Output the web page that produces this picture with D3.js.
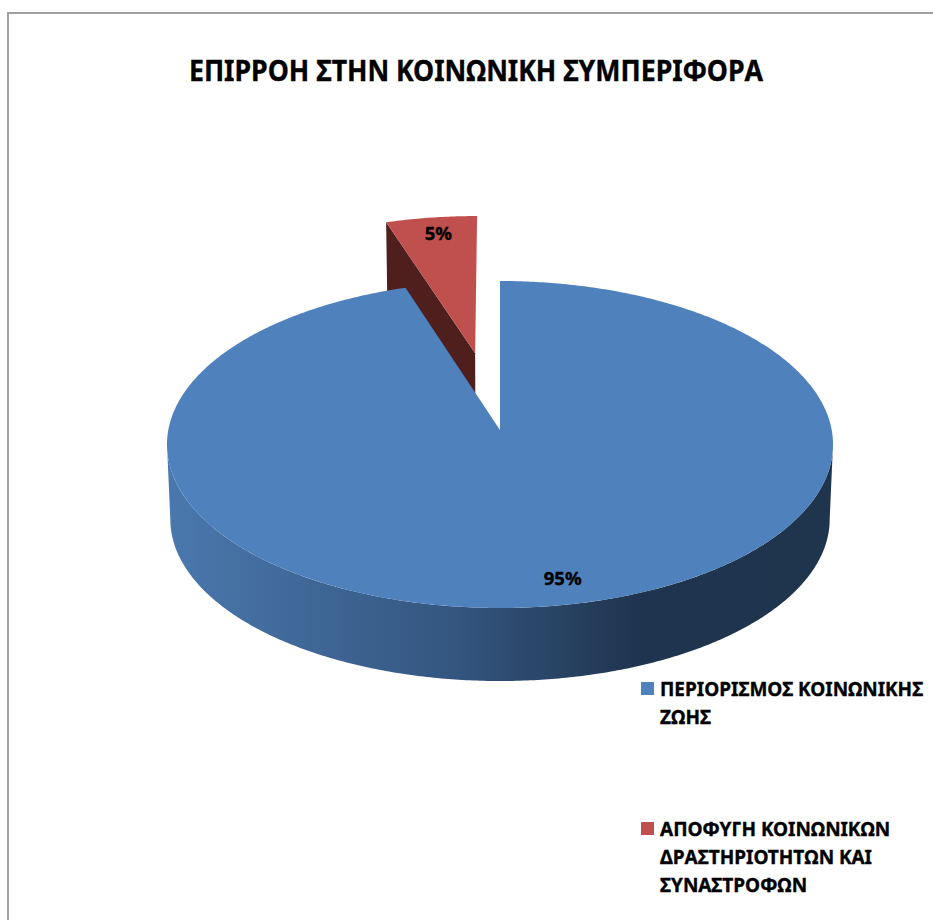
<!DOCTYPE html>
<html lang="el">
<head>
<meta charset="utf-8">
<script src="https://cdn.jsdelivr.net/npm/d3@7"></script>
<style>
  html, body { margin: 0; padding: 0; background: #fff; overflow: hidden; }
  text { font-family: "Noto Sans", "Open Sans", sans-serif; font-weight: 700; fill: #000; stroke: #000; stroke-width: 0.35px; }
</style>
</head>
<body>
<svg id="chart" width="933" height="920"></svg>
<script>
// Chart content
const chartTitle = "ΕΠΙΡΡΟΗ ΣΤΗΝ ΚΟΙΝΩΝΙΚΗ ΣΥΜΠΕΡΙΦΟΡΑ";
const categories = ["ΠΕΡΙΟΡΙΣΜΟΣ ΚΟΙΝΩΝΙΚΗΣ ΖΩΗΣ", "ΑΠΟΦΥΓΗ ΚΟΙΝΩΝΙΚΩΝ ΔΡΑΣΤΗΡΙΟΤΗΤΩΝ ΚΑΙ ΣΥΝΑΣΤΡΟΦΩΝ"];
const values = [95, 5];
const legendLines = [
  ["ΠΕΡΙΟΡΙΣΜΟΣ ΚΟΙΝΩΝΙΚΗΣ", "ΖΩΗΣ"],
  ["ΑΠΟΦΥΓΗ ΚΟΙΝΩΝΙΚΩΝ", "ΔΡΑΣΤΗΡΙΟΤΗΤΩΝ ΚΑΙ", "ΣΥΝΑΣΤΡΟΦΩΝ"]
];
const explosion = [0, 0.5];
const topColors = ["#4f81bd", "#c0504d"];

// Perspective model of the tilted disc
const centre = { x: 500, y: 430 };
const radiusX = 331.7, radiusY = 162.2, perspective = 0.0887;
const depth = 74.8, bottomScale = 0.99;

const svg = d3.select("#chart");
const defs = svg.append("defs");

// Projects a point on the unit disc (X to the right, Z to the back).
function project(X, Z, bottom) {
  const s = bottom ? bottomScale : 1;
  const w = 1 + perspective * Z;
  return [
    centre.x + s * radiusX * X / w,
    centre.y - s * radiusY * Z / w + (bottom ? depth : 0)
  ];
}

const pieLayout = d3.pie().sort(null).value(d => d);
const slices = pieLayout(values).map((s, i) => {
  const mid = (s.startAngle + s.endAngle) / 2;
  return {
    ...s,
    index: i,
    mid,
    ox: Math.sin(mid) * explosion[i],
    oz: Math.cos(mid) * explosion[i]
  };
});

const rimPoint = (s, a, bottom, r = 1) =>
  project(s.ox + r * Math.sin(a), s.oz + r * Math.cos(a), bottom);

const line = d3.line();

function arcAngles(a0, a1) {
  const n = Math.max(2, Math.ceil(Math.abs(a1 - a0) / 0.01));
  return d3.range(n + 1).map(i => a0 + (a1 - a0) * i / n);
}

// Chart frame, running past the right and bottom edges of the page
svg.append("rect")
  .attr("x", 8).attr("y", 13).attr("width", 1000).attr("height", 1000)
  .attr("fill", "#fff").attr("stroke", "#a0a0a0").attr("stroke-width", 2);

// Title
svg.append("text")
  .attr("x", 476).attr("y", 80.5)
  .attr("text-anchor", "middle")
  .attr("font-size", 28)
  .attr("textLength", 574)
  .attr("lengthAdjust", "spacingAndGlyphs")
  .text(chartTitle);

// Shading of the curved side of the disc
const sideGradient = defs.append("linearGradient")
  .attr("id", "side-blue")
  .attr("gradientUnits", "userSpaceOnUse")
  .attr("x1", 167).attr("x2", 833).attr("y1", 0).attr("y2", 0);
[[0, "#4a78ae"], [0.18, "#416a9a"], [0.44, "#33557e"], [0.71, "#1f344e"], [1, "#1f344d"]]
  .forEach(([o, c]) => sideGradient.append("stop").attr("offset", o).attr("stop-color", c));

const blue = slices[0], red = slices[1];
const marks = svg.append("g");

// Exploded slice: exposed cut face, then its top surface
marks.append("path")
  .attr("d", line([
    rimPoint(red, red.startAngle, false, 0),
    rimPoint(red, red.startAngle, false),
    rimPoint(red, red.startAngle, true),
    rimPoint(red, red.startAngle, true, 0)
  ]) + "Z")
  .attr("fill", "#4f1f1d");

const topPath = s => line([
  rimPoint(s, s.startAngle, false, 0),
  ...arcAngles(s.startAngle, s.endAngle).map(a => rimPoint(s, a, false))
]) + "Z";

marks.append("path").attr("d", topPath(red)).attr("fill", topColors[red.index]);

// Main slice: front wall between its visible top and bottom rims, then its top
const limit = Math.acos(-perspective);
const wallAngles = arcAngles(limit, 2 * Math.PI - limit);
marks.append("path")
  .attr("d", line([
    ...wallAngles.map(a => rimPoint(blue, a, false)),
    ...wallAngles.slice().reverse().map(a => rimPoint(blue, a, true))
  ]) + "Z")
  .attr("fill", "url(#side-blue)");

marks.append("path").attr("d", topPath(blue)).attr("fill", topColors[blue.index]);

// Percentage labels, placed along each slice's bisector
const labelRadius = 0.85;
const labelShift = [[15, 7.5], [1, 3.5]];
const total = d3.sum(values);
svg.append("g").selectAll("text")
  .data(slices)
  .join("text")
  .attr("x", d => rimPoint(d, d.mid, false, labelRadius)[0] + labelShift[d.index][0])
  .attr("y", d => rimPoint(d, d.mid, false, labelRadius)[1] + labelShift[d.index][1])
  .attr("text-anchor", "middle")
  .attr("font-size", 18.5)
  .text(d => `${Math.round(d.data / total * 100)}%`);

// Legend
const legendTop = [682, 822];
const legend = svg.append("g").selectAll("g")
  .data(categories)
  .join("g")
  .attr("transform", (d, i) => `translate(641,${legendTop[i]})`);

legend.append("rect")
  .attr("width", 13).attr("height", 13)
  .attr("fill", (d, i) => topColors[i]);

legend.each(function (d, i) {
  d3.select(this).selectAll("text")
    .data(legendLines[i])
    .join("text")
    .attr("x", 19)
    .attr("y", (t, j) => 13.5 + j * 28)
    .attr("font-size", 19)
    .text(t => t);
});
</script>
</body>
</html>
